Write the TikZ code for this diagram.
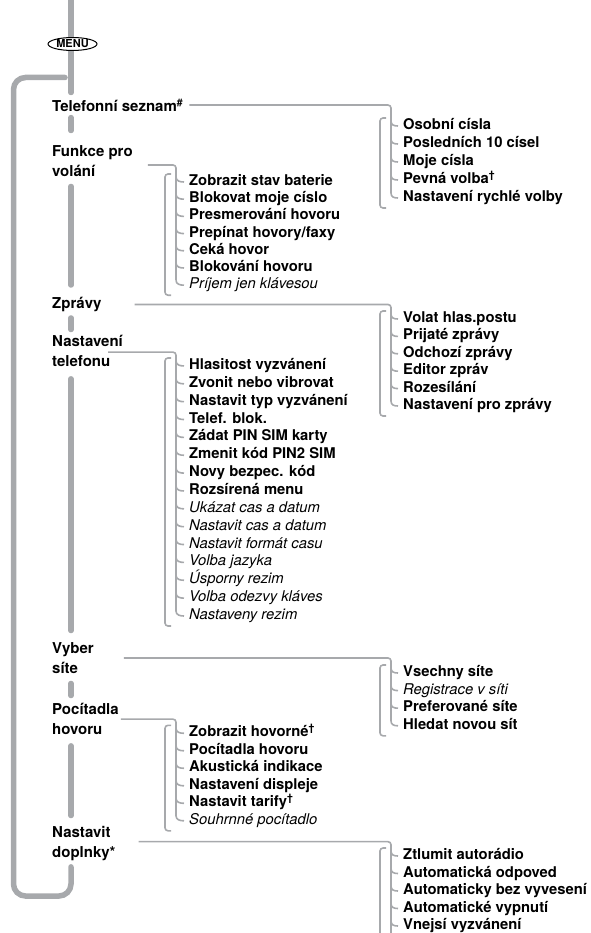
\documentclass[tikz,border=0pt]{standalone}
\usepackage{fontspec}
\setmainfont{TeX Gyre Heros}
\usetikzlibrary{shapes.geometric}
\definecolor{menugray}{RGB}{167,169,172}
\tikzset{>=stealth,
  spine/.style={menugray, line width=5.5pt, line cap=round},
  conn/.style={menugray, line width=1.6pt, rounded corners=3pt},
  brk/.style={menugray, line width=1.6pt, rounded corners=3pt},
  mainitem/.style={anchor=north west, inner sep=0pt, align=left, font=\fontsize{15}{19.5}\selectfont\bfseries},
  subitem/.style={anchor=west, inner sep=0pt, text height=10pt, text depth=3pt, font=\fontsize{14.8}{16}\selectfont\bfseries},
}
\newcommand{\opt}[1]{{\mdseries\itshape #1}}

\begin{document}
\begin{tikzpicture}[x=1pt,y=-1pt]
\useasboundingbox (0,0) rectangle (590,933);
\coordinate (sp) at (71,0);
\coordinate (rc) at (391,0);
\coordinate (rb) at (380,0);
\coordinate (lc) at (176,0);
\coordinate (lb) at (165,0);
\coordinate (bot) at (0,940);

% main menu
\node[mainitem] (tel) at (52,98.5) {Telefonní seznam\textsuperscript{\#}};
\node[mainitem] (fun) at (52,145.5) {Funkce pro\\volání};
\node[mainitem] (zpr) at (52,297) {Zprávy};
\node[mainitem] (nas) at (52,335.5) {Nastavení\\telefonu};
\node[mainitem] (vyb) at (52,642.5) {Vyber\\síte};
\node[mainitem] (poc) at (52,703.5) {Pocítadla\\hovoru};
\node[mainitem] (dop) at (52,826.5) {Nastavit\\doplnky*};

\draw[spine] (sp |- 0,-5) -- ([yshift=6pt]tel.north -| sp);
\node[draw, ellipse, fill=white, line width=1pt, inner sep=0.5pt, minimum width=49pt, minimum height=12pt,
  font=\fontsize{11}{11}\selectfont\bfseries] (menu) at (72.5,44) {MENU};
\foreach \a/\b/\s/\e in {tel/fun/6/15, fun/zpr/10/12, zpr/nas/6/6, nas/vyb/12/12, vyb/poc/10/8, poc/dop/11/11}
  \draw[spine, shorten <=\s pt, shorten >=\e pt] (\a.south -| sp) -- (\b.north -| sp);
\draw[spine, rounded corners=12pt] ([yshift=-6pt]dop.south -| sp) -- (71,896) -- (13.5,896) -- (13.5,77.5) -- (65,77.5);

% submenus
\foreach \t [count=\i] in {Osobní císla, Posledních 10 císel, Moje císla, Pevná volba\textsuperscript{†}, Nastavení rychlé volby}
  \node[subitem] (tel\i) at (403,108+18*\i) {\t};
\foreach \t [count=\i] in {Zobrazit stav baterie, Blokovat moje císlo, Presmerování hovoru, Prepínat hovory/faxy,
    Ceká hovor, Blokování hovoru, \opt{Príjem jen klávesou}}
  \node[subitem] (fun\i) at (189,164.8+17.2*\i) {\t};
\foreach \t [count=\i] in {Volat hlas.postu, Prijaté zprávy, Odchozí zprávy, Editor zpráv, Rozesílání, Nastavení pro zprávy}
  \node[subitem] (zpr\i) at (403,301.6+17.4*\i) {\t};
\foreach \t [count=\i] in {Hlasitost vyzvánení, Zvonit nebo vibrovat, Nastavit typ vyzvánení, Telef. blok.,
    Zádat PIN SIM karty, Zmenit kód PIN2 SIM, Novy bezpec. kód, Rozsírená menu, \opt{Ukázat cas a datum},
    \opt{Nastavit cas a datum}, \opt{Nastavit formát casu}, \opt{Volba jazyka}, \opt{Úsporny rezim},
    \opt{Volba odezvy kláves}, \opt{Nastaveny rezim}}
  \node[subitem] (nas\i) at (189,348.1+17.86*\i) {\t};
\foreach \t [count=\i] in {Vsechny síte, \opt{Registrace v síti}, Preferované síte, Hledat novou sít}
  \node[subitem] (vyb\i) at (403,655.4+17.6*\i) {\t};
\foreach \t [count=\i] in {Zobrazit hovorné\textsuperscript{†}, Pocítadla hovoru, Akustická indikace,
    Nastavení displeje, Nastavit tarify\textsuperscript{†}, \opt{Souhrnné pocítadlo}}
  \node[subitem] (poc\i) at (189,715.8+17.5*\i) {\t};
\foreach \t [count=\i] in {Ztlumit autorádio, Automatická odpoved, Automaticky bez vyvesení, Automatické vypnutí, Vnejsí vyzvánení}
  \node[subitem] (dop\i) at (403,838.5+17.5*\i) {\t};

% connectors
\draw[conn] (tel.east) ++(6,0) -| ([yshift=5pt]tel5.west -| rc);
\draw[conn] (fun.east) ++(15,4) -| ([yshift=5pt]fun7.west -| lc);
\draw[conn] (zpr.east) ++(33,0) -| ([yshift=5pt]zpr6.west -| rc);
\draw[conn] (nas.east) ++(-15,1) -| ([yshift=5pt]nas15.west -| lc);
\draw[conn] (vyb.east) ++(30,0) -| ([yshift=5pt]vyb4.west -| rc);
\draw[conn] (poc.east) ++(2,0) -| ([yshift=5pt]poc6.west -| lc);
\draw[conn] (dop.east) ++(23,-2) -| (rc |- bot);

\foreach \g/\n/\cx/\bx in {tel/5/rc/rb, fun/7/lc/lb, zpr/6/rc/rb, nas/15/lc/lb, vyb/4/rc/rb, poc/6/lc/lb} {
  \foreach \i in {1,...,\n}
    \draw[conn] ([yshift=5pt]\g\i.west -| \cx) .. controls +(0,4) and +(-4,0) .. ([xshift=-5pt]\g\i.west);
  \draw[brk] ([xshift=6pt,yshift=8pt]\g1.west -| \bx) -- ([yshift=8pt]\g1.west -| \bx)
    -- ([yshift=-10pt]\g\n.west -| \bx) -- ([xshift=6pt,yshift=-10pt]\g\n.west -| \bx);
}
\foreach \i in {1,...,5}
  \draw[conn] ([yshift=5pt]dop\i.west -| rc) .. controls +(0,4) and +(-4,0) .. ([xshift=-5pt]dop\i.west);
\draw[brk] ([xshift=6pt,yshift=8pt]dop1.west -| rb) -- ([yshift=8pt]dop1.west -| rb) -- (rb |- bot);
\end{tikzpicture}
\end{document}
